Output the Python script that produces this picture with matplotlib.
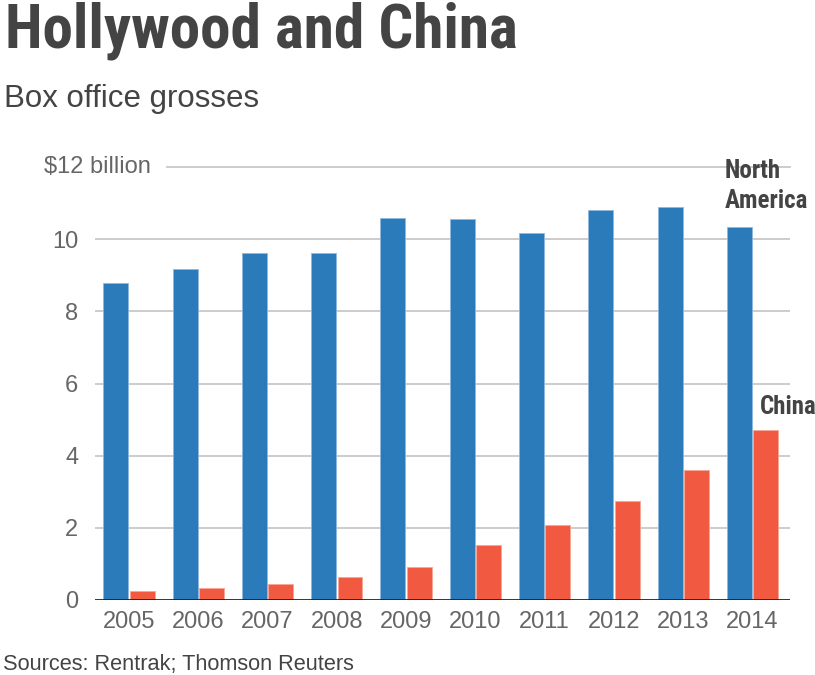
import numpy as np
import matplotlib.pyplot as plt

# data (billions of dollars)
years = ['2005', '2006', '2007', '2008', '2009', '2010', '2011', '2012', '2013', '2014']
north_america = [8.78, 9.17, 9.61, 9.61, 10.60, 10.56, 10.17, 10.80, 10.90, 10.34]
china = [0.25, 0.33, 0.44, 0.63, 0.91, 1.52, 2.08, 2.74, 3.60, 4.72]
ytick_vals = [0, 2, 4, 6, 8, 10]

blue = '#2b7bba'
red = '#f15a40'
txt = '#444444'
tick_col = '#666666'
plain = ['Liberation Sans', 'DejaVu Sans']
narrow = ['Liberation Sans Narrow', 'Roboto Condensed', 'DejaVu Sans']

fig = plt.figure(figsize=(8.15, 6.75), dpi=100)
ax = fig.add_axes([95/815, 1-600/675, 695/815, (600-167)/675])

x = np.arange(len(years))
w = 0.36
ax.bar(x - 0.19, north_america, width=w, color=blue, edgecolor='#8fb8dc', linewidth=0.6, zorder=3)
ax.bar(x + 0.19, china, width=w, color=red, edgecolor='#f8a596', linewidth=0.6, zorder=3)

ax.set_xlim(-0.49, 9.54)
ax.set_ylim(0, 12)

# gridlines
for v in ytick_vals[1:]:
    ax.axhline(v, color='#c8c8c8', lw=1.3, zorder=1)
ax.plot([(167-129)/69.3, 9.54], [12, 12], color='#c8c8c8', lw=1.3, clip_on=False, zorder=1)
ax.axhline(0, color='#222222', lw=2, zorder=4)

for s in ax.spines.values():
    s.set_visible(False)
ax.set_yticks(ytick_vals)
ax.set_yticklabels([str(v) for v in ytick_vals], family=plain, fontsize=17, color=tick_col)
ax.tick_params(axis='y', length=0, pad=12)
ax.set_xticks(x)
ax.set_xticklabels(years, family=plain, fontsize=17, color=tick_col)
ax.tick_params(axis='x', length=0, pad=8)
ax.text(0.31, 12, '$12 billion', ha='right', va='center', family=plain, fontsize=17, color=tick_col)

ax.text(8.6, 11.47, 'North\nAmerica', ha='left', va='center', family=narrow, fontsize=18,
        fontweight='bold', color=txt, linespacing=1.3)
ax.text(9.1, 5.35, 'China', ha='left', va='center', family=narrow, fontsize=18,
        fontweight='bold', color=txt)

fig.text(5/815, 1-48/675, 'Hollywood and China', family=narrow, fontsize=44, fontweight='bold', color=txt)
fig.text(4/815, 1-107/675, 'Box office grosses', family=plain, fontsize=22.5, color=txt)
fig.text(3/815, 1-670/675, 'Sources: Rentrak; Thomson Reuters', family=plain, fontsize=15.7, color=txt)

fig.savefig('out.png', dpi=100)
